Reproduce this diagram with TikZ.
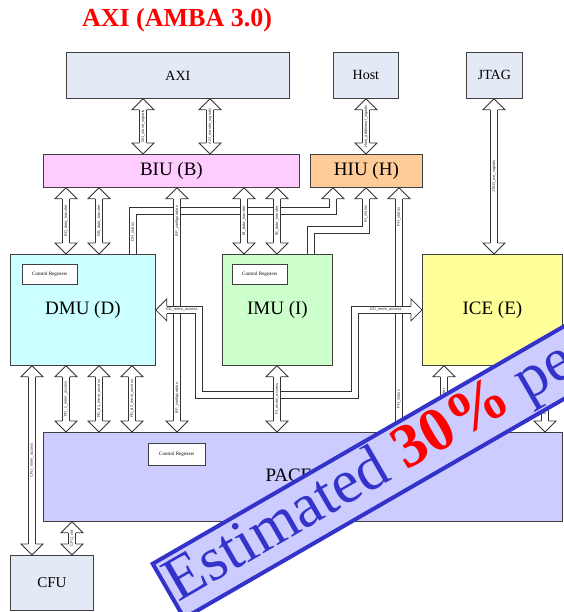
\documentclass[tikz,border=0pt]{standalone}
\usepackage{fontspec}
\setmainfont{Liberation Serif}
\newfontfamily\lblfont{Liberation Sans}
\usetikzlibrary{calc}

\definecolor{extfill}{HTML}{E3EAF5}
\definecolor{biufill}{HTML}{FFCCFF}
\definecolor{hiufill}{HTML}{FFCC99}
\definecolor{dmufill}{HTML}{CCFFFF}
\definecolor{imufill}{HTML}{CCFFCC}
\definecolor{icefill}{HTML}{FFFF99}
\definecolor{pacefill}{HTML}{CCCCFF}
\definecolor{bannerblue}{HTML}{3333CC}
\definecolor{bannerfill}{HTML}{CCCCFF}

\tikzset{
  blk/.style={draw=black!75, line width=0.8pt, anchor=north west, inner sep=0pt},
  bigtxt/.style={font=\fontsize{19}{19}\selectfont},
  midtxt/.style={font=\fontsize{14}{14}\selectfont},
  creg/.style={draw=black!75, line width=0.6pt, fill=white, anchor=north west,
    inner sep=0pt, font=\fontsize{5}{5}\selectfont},
  shaft/.style={draw=black!80, line width=0.8pt, double=white, double distance=6.4pt},
  headline/.style={draw=black!80, line width=0.8pt, fill=white, line join=miter},
  lbl/.style={font=\lblfont\fontsize{4}{4}\selectfont, inner sep=0pt, text=black!80},
  vlbl/.style={lbl, rotate=90},
}

% hollow arrow head; tip at #1, angle 0 = pointing up
\newcommand\fathead[2]{%
  \begin{scope}[shift={(#1)},rotate=#2]
    \filldraw[headline] (-3.6,11) -- (-11,11) -- (0,0) -- (11,11) -- (3.6,11);
  \end{scope}}

% vertical fat arrow with heads at both ends: x, upper anchor, lower anchor, label
\newcommand\vboth[4]{%
  \path (#1,0 |- #2) coordinate (vt) (#1,0 |- #3) coordinate (vb);
  \draw[shaft] ($(vt)+(0,11)$) -- ($(vb)+(0,-11)$);
  \fathead{vt}{0}\fathead{vb}{180}
  \path (vt) -- (vb) node[vlbl, midway] {#4};}

% vertical fat arrow with a head at the upper end only
\newcommand\vup[3]{%
  \path (#1,0 |- #2) coordinate (vt) (#1,0 |- #3) coordinate (vb);
  \draw[shaft] ($(vt)+(0,11)$) -- (vb);
  \fathead{vt}{0}}

\begin{document}
\begin{tikzpicture}[x=1pt, y=-1pt]
\useasboundingbox (0,0) rectangle (563,612);
\fill[white] (0,0) rectangle (563,612);

% title
\node[font=\bfseries\fontsize{26}{26}\selectfont, text=red] (title) at (177,20) {AXI (AMBA 3.0)};

% blocks
\node[blk, fill=extfill, minimum width=223pt, minimum height=46pt, midtxt] (axi) at (66,52) {AXI};
\node[blk, fill=extfill, minimum width=65pt, minimum height=46pt, midtxt] (host) at (333,52) {Host};
\node[blk, fill=extfill, minimum width=56pt, minimum height=46pt, midtxt] (jtag) at (466,52) {JTAG};
\node[blk, fill=biufill, minimum width=256pt, minimum height=33pt, bigtxt] (biu) at (43,154) {BIU (B)};
\node[blk, fill=hiufill, minimum width=112pt, minimum height=33pt, bigtxt] (hiu) at (310,154) {HIU (H)};
\node[blk, fill=dmufill, minimum width=145pt, minimum height=111pt, bigtxt] (dmu) at (10,254) {DMU (D)};
\node[blk, fill=imufill, minimum width=110pt, minimum height=111pt, bigtxt] (imu) at (222,254) {IMU (I)};
\node[blk, fill=icefill, minimum width=140pt, minimum height=111pt, bigtxt] (ice) at (422,254) {ICE (E)};
\node[blk, fill=pacefill, minimum width=519pt, minimum height=89pt, bigtxt] (pace) at (43,432) {PACE (P)};
\node[blk, fill=extfill, minimum width=83pt, minimum height=55pt, font=\fontsize{15}{15}\selectfont] (cfu) at (10,555) {CFU};

% control register blocks
\node[creg, minimum width=55pt, minimum height=20pt] (dmucr) at (22,264) {Control Registers};
\node[creg, minimum width=55pt, minimum height=20pt] (imucr) at (232,264) {Control Registers};
\node[creg, minimum width=57pt, minimum height=22pt] (pacecr) at (148,443) {Control Registers};

% status lines into the HIU
\draw[shaft] (133,0 |- dmu.north) |- (333,211) -- ($(333,0 |- hiu.south)+(0,11)$);
\fathead{333,0 |- hiu.south}{0}
\node[vlbl] at (133,232) {DH\_status};
\draw[shaft] (311,0 |- imu.north) |- (366,230) -- ($(366,0 |- hiu.south)+(0,11)$);
\fathead{366,0 |- hiu.south}{0}
\node[vlbl] at (366,214) {IH\_status};

% long vertical links
\vboth{177}{biu.south}{pace.north}{}
\node[vlbl] at (177,221) {BP\_configuration};
\node[vlbl] at (177,398) {BP\_configuration};
\vup{399}{hiu.south}{pace.north}
\node[vlbl] at (399,217) {PH\_status};
\node[vlbl] at (399,399) {PH\_status};

% external interfaces
\vboth{143}{axi.south}{biu.north}{AXI\_slave\_signals}
\vboth{210}{axi.south}{biu.north}{AXI\_master\_signals}
\vboth{366}{host.south}{hiu.north}{Host\_additional\_signals}
\vboth{494}{jtag.south}{ice.north}{JTAG\_ice\_signals}

% BIU data transfers
\vboth{66}{biu.south}{dmu.north}{BD\_data\_transfer}
\vboth{99}{biu.south}{dmu.north}{DB\_data\_transfer}
\vboth{244}{biu.south}{imu.north}{BI\_data\_transfer}
\vboth{277}{biu.south}{imu.north}{IB\_data\_transfer}

% ICE memory access loop round the IMU
\draw[shaft] ($(dmu.east)+(11,0)$) -- (199,0 |- dmu.east) -- (199,395) -- (355,395)
  -- (355,0 |- ice.west) -- ($(ice.west)+(-11,0)$);
\fathead{dmu.east}{90}
\fathead{ice.west}{-90}
\node[lbl] at (182,309.5) {ED\_mem\_access};
\node[lbl] at (386,309.5) {ED\_mem\_access};

% PACE links
\vboth{66}{dmu.south}{pace.north}{PD\_c\_mem\_access}
\vboth{99}{dmu.south}{pace.north}{PD\_d1\_mem\_access}
\vboth{132}{dmu.south}{pace.north}{PD\_d2\_mem\_access}
\vboth{277}{imu.south}{pace.north}{PI\_imem\_access}
\vboth{444}{ice.south}{pace.north}{PE\_register}
\vboth{545}{ice.south}{pace.north}{EP\_mem\_access}

% CFU links
\vboth{32}{dmu.south}{cfu.north}{CFU\_mem\_access}
\vboth{72}{pace.south}{cfu.north}{CFU\_ctrl}

% estimate banner
\node[draw=bannerblue, line width=4pt, fill=bannerfill, rotate=30, anchor=north west,
  inner sep=3pt, font=\fontsize{62}{62}\selectfont, text=bannerblue] (est) at (150,563)
  {Estimated \textcolor{red}{\bfseries 30\%} performance};
\end{tikzpicture}
\end{document}
